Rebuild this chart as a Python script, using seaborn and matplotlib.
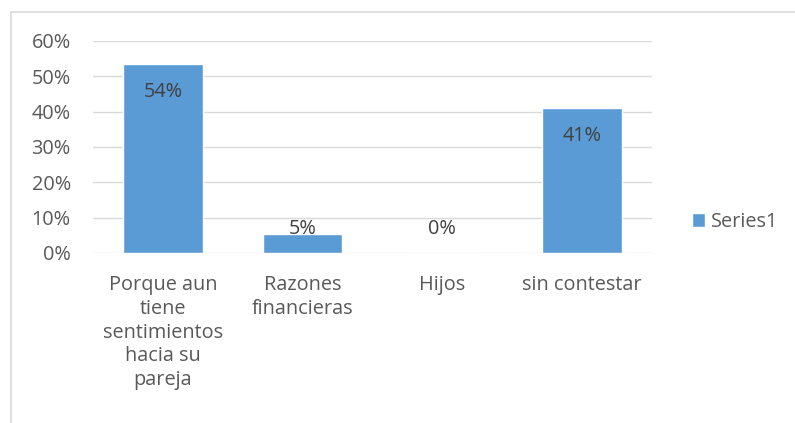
import matplotlib
matplotlib.use("Agg")
import matplotlib.pyplot as plt
import seaborn as sns
import pandas as pd
from matplotlib.patches import Rectangle

categories = ["Porque aun\ntiene\nsentimientos\nhacia su\npareja", "Razones\nfinancieras", "Hijos", "sin contestar"]
values = [0.536, 0.054, 0.0, 0.41]
series_name = "Series1"
yticks = [0, 0.1, 0.2, 0.3, 0.4, 0.5, 0.6]

sns.set_theme(style="white")
plt.rcParams['font.family'] = ['Open Sans', 'DejaVu Sans']

bar_color = "#5B9BD5"
text_color = "#595959"
grid_color = "#D9D9D9"
fs = 14.3

df = pd.DataFrame({"cat": categories, "val": values, "series": series_name})

fig = plt.figure(figsize=(7.95, 4.23), dpi=100)
ax = fig.add_axes([93/795, 1-253/423, (652-93)/795, (253-41)/423])

sns.barplot(data=df, x="cat", y="val", hue="series", palette=[bar_color], ax=ax,
            width=0.57, saturation=1, legend=True)

ax.set_ylim(0, 0.6)
ax.set_xlim(-0.5, len(categories)-0.5)
ax.set_yticks(yticks)
ax.set_yticklabels([f"{int(round(t*100))}%" for t in yticks], color=text_color, fontsize=fs)
ax.tick_params(axis='y', length=0, pad=16)
ax.tick_params(axis='x', length=0, pad=16)
for lbl in ax.get_xticklabels():
    lbl.set_color(text_color)
    lbl.set_fontsize(fs)
    lbl.set_linespacing(1.25)
    lbl.set_verticalalignment('top')
ax.set_xlabel("")
ax.set_ylabel("")
for s in ax.spines.values():
    s.set_visible(False)
ax.yaxis.grid(True, color=grid_color, linewidth=1)
ax.set_axisbelow(True)

for i, v in enumerate(values):
    ypos = max(v - 0.079, 0.068)
    ax.text(i, ypos, f"{v:.0%}", ha='center', va='center', color="#404040", fontsize=fs)

leg = ax.legend(loc='center left', bbox_to_anchor=((692-93)/(652-93), (253-222)/(253-41)),
                frameon=False, fontsize=fs, handlelength=0.65, handleheight=0.65,
                handletextpad=0.3, borderaxespad=0, borderpad=0)
for t in leg.get_texts():
    t.set_color(text_color)
leg.set_title(None)

fig.patches.append(Rectangle((11/795, -0.1), 1.2, (423-12)/423 + 0.1, transform=fig.transFigure,
                             fill=False, edgecolor=grid_color, linewidth=1.2))

fig.savefig("out.png", dpi=100)
